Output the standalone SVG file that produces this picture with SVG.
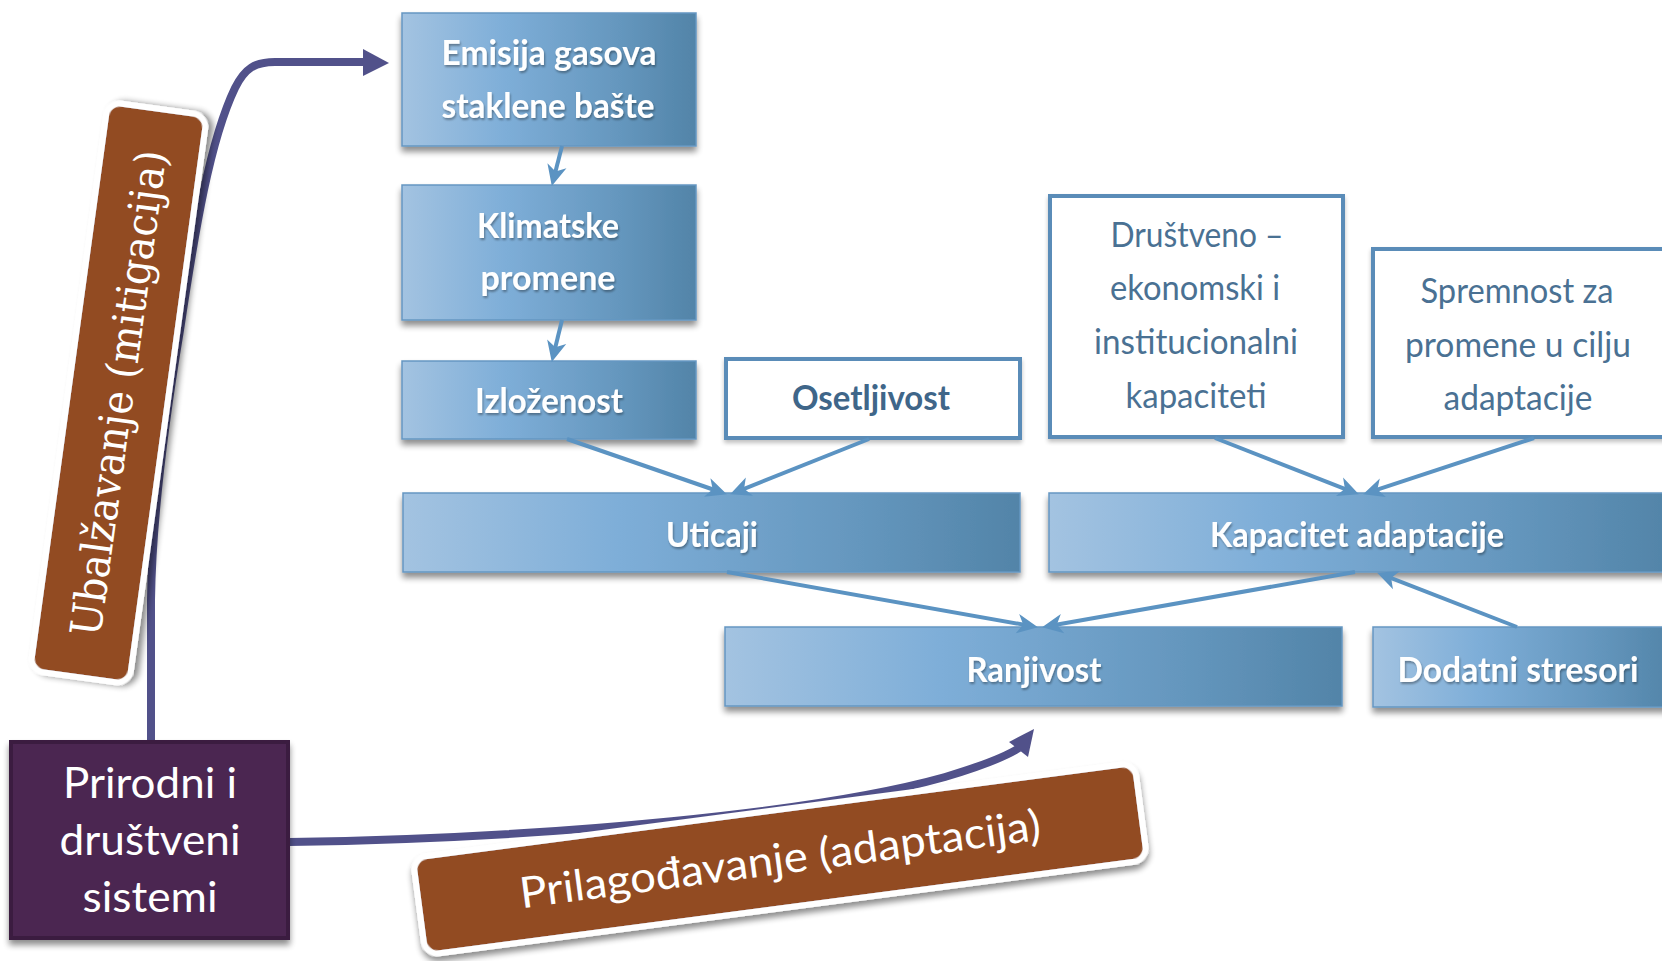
<svg xmlns="http://www.w3.org/2000/svg" width="1662" height="961" viewBox="0 0 1662 961">
<defs>
<style>
.box{fill:url(#gBlue);stroke:#6597c2;stroke-width:1.5;filter:url(#sh)}
.obox{fill:#fff;stroke:#5a8cb8;stroke-width:4;filter:url(#shl)}
.tb{font-family:Lato,"Open Sans","Liberation Sans",sans-serif;font-weight:700;font-size:34px;fill:#fff;text-anchor:middle;filter:url(#tsh)}
.to{font-family:Lato,"Open Sans","Liberation Sans",sans-serif;font-weight:700;font-size:34px;fill:#3f6689;text-anchor:middle}
.tr{font-family:Lato,"Open Sans","Liberation Sans",sans-serif;font-weight:400;font-size:35px;fill:#4a7193;text-anchor:middle}
.tw{font-family:Lato,"Open Sans","Liberation Sans",sans-serif;font-weight:400;font-size:43px;fill:#fff;text-anchor:middle}
.ts{font-family:"DejaVu Serif","Liberation Serif",serif;font-weight:400;font-size:43px;fill:#fff;text-anchor:middle}
.brown{fill:#924b22;stroke:#fff;stroke-width:6;filter:url(#sh)}
.blue{fill:none;stroke:#5b93c2;stroke-width:4;marker-end:url(#ab)}
.purple{fill:none;stroke:#51518a;stroke-width:8}
.phead{fill:#51518a}
</style>
<linearGradient id="gBlue" x1="0" y1="0" x2="1" y2="0">
<stop offset="0" stop-color="#a3c3e1"/>
<stop offset="0.35" stop-color="#7eaed8"/>
<stop offset="0.75" stop-color="#6496bd"/>
<stop offset="1" stop-color="#5284a8"/>
</linearGradient>
<filter id="sh" x="-10%" y="-10%" width="120%" height="130%">
<feGaussianBlur in="SourceAlpha" stdDeviation="3"/>
<feOffset dx="0" dy="5" result="b"/>
<feComponentTransfer><feFuncA type="linear" slope="0.45"/></feComponentTransfer>
<feMerge><feMergeNode/><feMergeNode in="SourceGraphic"/></feMerge>
</filter>
<filter id="shl" x="-10%" y="-10%" width="120%" height="130%">
<feGaussianBlur in="SourceAlpha" stdDeviation="2"/>
<feOffset dx="0" dy="3" result="b"/>
<feComponentTransfer><feFuncA type="linear" slope="0.25"/></feComponentTransfer>
<feMerge><feMergeNode/><feMergeNode in="SourceGraphic"/></feMerge>
</filter>
<filter id="tsh" x="-10%" y="-20%" width="120%" height="150%">
<feGaussianBlur in="SourceAlpha" stdDeviation="1"/>
<feOffset dx="1" dy="1.5" result="b"/>
<feComponentTransfer><feFuncA type="linear" slope="0.35"/></feComponentTransfer>
<feMerge><feMergeNode/><feMergeNode in="SourceGraphic"/></feMerge>
</filter>
<marker id="ab" markerUnits="userSpaceOnUse" markerWidth="30" markerHeight="30" viewBox="-16 -10 26 20" refX="0" refY="0" orient="auto">
<path d="M6,0 L-12,-8.5 L-7,0 L-12,8.5 Z" fill="#5b93c2"/>
</marker>
</defs>
<rect x="0" y="0" width="1662" height="961" fill="#fff"/>

<g id="n-emisija"><rect class="box" x="402" y="13" width="294" height="133"/>
<text class="tb" x="549" y="65" textLength="215" lengthAdjust="spacingAndGlyphs">Emisija gasova</text>
<text class="tb" x="548" y="118" textLength="213" lengthAdjust="spacingAndGlyphs">staklene bašte</text></g>
<g id="n-klimatske"><rect class="box" x="402" y="185" width="294" height="135"/>
<text class="tb" x="548" y="238" textLength="142" lengthAdjust="spacingAndGlyphs">Klimatske</text>
<text class="tb" x="548" y="290" textLength="135" lengthAdjust="spacingAndGlyphs">promene</text></g>
<g id="n-izlozenost"><rect class="box" x="402" y="361" width="294" height="78"/>
<text class="tb" x="549" y="413" textLength="148" lengthAdjust="spacingAndGlyphs">Izloženost</text></g>
<g id="n-osetljivost"><rect class="obox" x="726" y="359" width="294" height="79"/>
<text class="to" x="871" y="410" textLength="158" lengthAdjust="spacingAndGlyphs">Osetljivost</text></g>
<g id="n-drustveno"><rect class="obox" x="1050" y="196" width="293" height="241"/>
<text class="tr" x="1197" y="247" textLength="173" lengthAdjust="spacingAndGlyphs">Društveno –</text>
<text class="tr" x="1195" y="300" textLength="170" lengthAdjust="spacingAndGlyphs">ekonomski i</text>
<text class="tr" x="1196" y="354" textLength="204" lengthAdjust="spacingAndGlyphs">institucionalni</text>
<text class="tr" x="1196" y="408" textLength="141" lengthAdjust="spacingAndGlyphs">kapaciteti</text></g>
<g id="n-spremnost"><rect class="obox" x="1373" y="249" width="300" height="188"/>
<text class="tr" x="1517" y="303" textLength="193" lengthAdjust="spacingAndGlyphs">Spremnost za</text>
<text class="tr" x="1518" y="357" textLength="226" lengthAdjust="spacingAndGlyphs">promene u cilju</text>
<text class="tr" x="1518" y="410" textLength="149" lengthAdjust="spacingAndGlyphs">adaptacije</text></g>
<g id="n-uticaji"><rect class="box" x="403" y="493" width="617" height="79"/>
<text class="tb" x="712" y="547" textLength="92" lengthAdjust="spacingAndGlyphs">Uticaji</text></g>
<g id="n-kapacitet"><rect class="box" x="1049" y="493" width="620" height="79"/>
<text class="tb" x="1357" y="547" textLength="294" lengthAdjust="spacingAndGlyphs">Kapacitet adaptacije</text></g>
<g id="n-ranjivost"><rect class="box" x="725" y="627" width="617" height="79"/>
<text class="tb" x="1034" y="682" textLength="135" lengthAdjust="spacingAndGlyphs">Ranjivost</text></g>
<g id="n-dodatni"><rect class="box" x="1373" y="627" width="300" height="80"/>
<text class="tb" x="1518" y="682" textLength="241" lengthAdjust="spacingAndGlyphs">Dodatni stresori</text></g>

<g id="connectors">
<path class="blue" d="M562,146 L553.5,179.2"/>
<path class="blue" d="M562,320 L553.4,355.2"/>
<path class="blue" d="M567,439 L720.3,492"/>
<path class="blue" d="M869,439 L736.6,491.8"/>
<path class="blue" d="M1215,438 L1352.4,491.8"/>
<path class="blue" d="M1534,438 L1369.7,492.1"/>
<path class="blue" d="M727,572 L1031.1,626"/>
<path class="blue" d="M1355,572 L1048.9,626"/>
<path class="blue" d="M1517,627 L1383.6,575.2"/>
<path class="purple" d="M151,742 L151,600 C152,520 165,420 180,330 C195,230 210,140 235,88 C245,68 255,62 275,62 L366,62"/>
<polygon class="phead" points="363,49 389,63 363,76"/>
<path class="purple" d="M289,842 C560,838 820,812 945,777 C985,765 1005,757 1019,748"/>
<polygon class="phead" points="1034,729 1009,742 1028,757"/>
</g>

<g id="n-ublazavanje" transform="translate(118.5,393) rotate(-82.2)">
<rect class="brown" x="-287" y="-50" width="574" height="100" rx="14"/>
<text class="ts" x="0" y="15" textLength="490" lengthAdjust="spacingAndGlyphs">Ubalžavanje (mitigacija)</text></g>
<g id="n-prilagodjavanje" transform="translate(780,859) rotate(-7.5)">
<rect class="brown" x="-364" y="-49" width="728" height="98" rx="14"/>
<text class="tw" x="0" y="15" textLength="525" lengthAdjust="spacingAndGlyphs">Prilagođavanje (adaptacija)</text></g>
<g id="n-prirodni"><rect x="11" y="742" width="277" height="196" fill="#4b2651" stroke="#3a1b40" stroke-width="4" filter="url(#sh)"/>
<text class="tw" x="150" y="798" textLength="174" lengthAdjust="spacingAndGlyphs">Prirodni i</text>
<text class="tw" x="150" y="855" textLength="181" lengthAdjust="spacingAndGlyphs">društveni</text>
<text class="tw" x="150" y="912" textLength="135" lengthAdjust="spacingAndGlyphs">sistemi</text></g>
</svg>
